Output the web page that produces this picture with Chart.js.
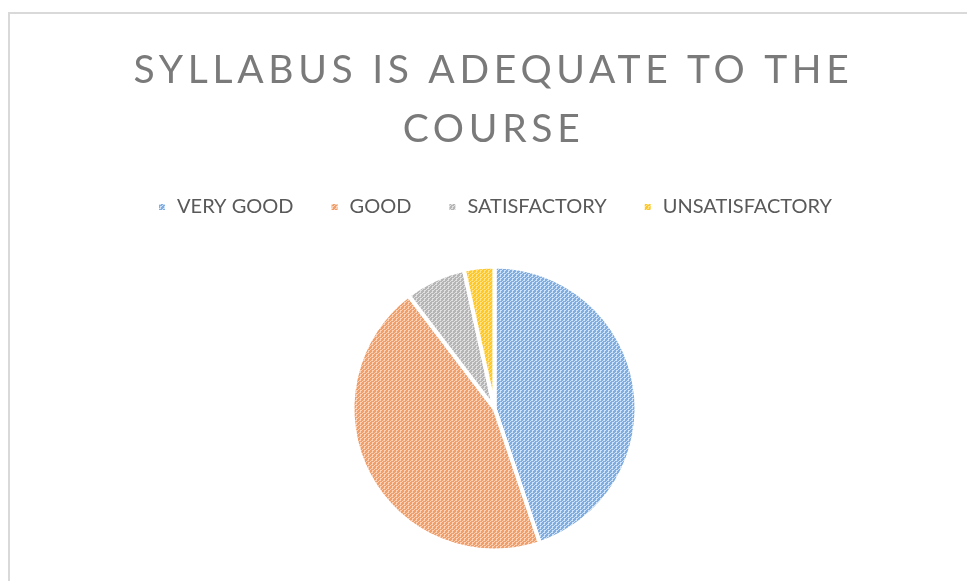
<!DOCTYPE html>
<html>
<head>
<meta charset="utf-8">
<script src="https://cdn.jsdelivr.net/npm/chart.js@4.4.1/dist/chart.umd.min.js"></script>
<style>
  html, body { margin: 0; padding: 0; background: #fff; overflow: hidden; width: 967px; height: 581px; }
  #box { position: absolute; left: 8px; top: 12px; width: 969px; height: 600px;
         border: 2px solid #d9d9d9; border-bottom: none; background: #fff; }
</style>
</head>
<body>
<div id="box"><canvas id="syllabusChart" width="969" height="600"></canvas></div>
<script>
var titleLines = ['SYLLABUS IS ADEQUATE TO THE', 'COURSE'];
var categories = ['VERY GOOD', 'GOOD', 'SATISFACTORY', 'UNSATISFACTORY'];
var responses = [13, 13, 2, 1];
var darkColors = ['#7fade2', '#f19e69', '#b5b5b5', '#ffc824'];
var lightColors = ['#d0e2f5', '#fad2b9', '#e0e0e0', '#ffe28a'];

// fine woven hatch like the excel fill
function makePattern(dark, light) {
    var c = document.createElement('canvas');
    c.width = 4;
    c.height = 4;
    var g = c.getContext('2d');
    g.fillStyle = light;
    g.fillRect(0, 0, 4, 4);
    g.fillStyle = dark;
    for (var x = 0; x < 4; x++) {
        for (var y = 0; y < 4; y++) {
            if ((x + y) % 2 === 0 && (x + 2 * y) % 4 !== 2) g.fillRect(x, y, 1, 1);
            if ((x + y) % 4 === 1) g.fillRect(x, y, 1, 1);
        }
    }
    return g.createPattern(c, 'repeat');
}

var fills = [];
for (var i = 0; i < categories.length; i++) {
    fills.push(makePattern(darkColors[i], lightColors[i]));
}

var spacedTitle = {
    id: 'spacedTitle',
    afterDraw: function (chart) {
        var ctx = chart.ctx;
        ctx.save();
        ctx.font = '400 39px Lato';
        ctx.fillStyle = '#7a7a7a';
        ctx.textAlign = 'center';
        ctx.textBaseline = 'alphabetic';
        ctx.letterSpacing = '4.7px';
        ctx.fillText(titleLines[0], chart.width / 2 - 1, 69);
        ctx.fillText(titleLines[1], chart.width / 2 - 1, 128);
        ctx.restore();
    }
};

var ctx = document.getElementById('syllabusChart');
var myPieChart = new Chart(ctx, {
    type: 'pie',
    data: {
        labels: categories,
        datasets: [{
            data: responses,
            backgroundColor: fills,
            borderColor: '#ffffff',
            borderWidth: 4,
            radius: 142
        }]
    },
    options: {
        responsive: false,
        animation: false,
        layout: {
            padding: { top: 147, bottom: 24 }
        },
        plugins: {
            title: { display: false },
            tooltip: { enabled: false },
            legend: {
                position: 'top',
                labels: {
                    boxWidth: 10,
                    boxHeight: 10,
                    padding: 36,
                    color: '#595959',
                    font: { family: 'Lato', size: 20 }
                }
            }
        }
    },
    plugins: [spacedTitle]
});
</script>
</body>
</html>
